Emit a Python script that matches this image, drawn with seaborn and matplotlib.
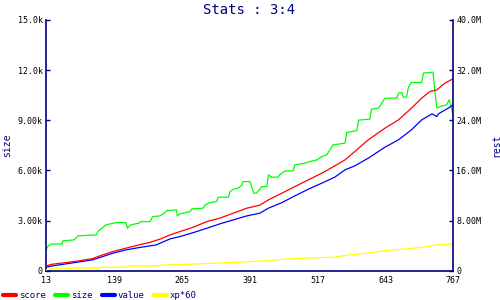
"""
Stats : 3:4  --  size on the left axis (k), score / value / xp*60 on the right axis (M)
"""

import matplotlib
matplotlib.use("Agg")
import matplotlib.pyplot as plt
import seaborn as sns
import pandas as pd

# ---- data ----
size_x = [13, 16, 22, 43, 44, 65, 69, 72, 106, 109, 115, 120, 124, 143, 161, 164, 170, 185,
          189, 206, 209, 211, 224, 233, 237, 255, 256, 261, 280, 283, 304, 308, 317, 329, 332,
          351, 354, 360, 369, 376, 378, 391, 394, 398, 403, 413, 422, 425, 431, 443, 446, 456,
          471, 474, 493, 502, 515, 524, 533, 545, 567, 570, 589, 592, 613, 616, 629, 641, 663,
          666, 672, 675, 681, 684, 689, 709, 712, 730, 732, 737, 743, 755, 760, 765, 767]
size_y = [1255, 1452, 1596, 1614, 1793, 1853, 1972, 2092, 2151, 2349, 2510, 2647, 2749, 2886,
          2886, 2552, 2749, 2851, 2946, 2946, 3149, 3245, 3287, 3466, 3604, 3645, 3287, 3406,
          3544, 3705, 3747, 3944, 4082, 4141, 4404, 4404, 4739, 4882, 4942, 5139, 5337, 5337,
          5038, 4643, 4643, 5038, 5038, 5737, 5600, 5600, 5737, 5976, 5976, 6335, 6436, 6532,
          6633, 6831, 6932, 7530, 7631, 8265, 8384, 9006, 9066, 9663, 9723, 10321, 10321, 10620,
          10655, 10381, 10381, 10918, 11253, 11253, 11815, 11875, 11175, 9723, 9819, 9920, 10219,
          9621, 9221]

score_x = [13, 25, 50, 74, 99, 118, 137, 161, 185, 204, 224, 243, 261, 286, 311, 335, 360, 385,
           409, 425, 450, 474, 499, 524, 548, 567, 585, 610, 641, 666, 690, 709, 724, 737, 752, 767]
score_y = [0.80, 1.07, 1.32, 1.59, 1.96, 2.55, 3.08, 3.62, 4.14, 4.51, 5.05, 5.74, 6.26, 6.96,
           7.86, 8.40, 9.20, 9.99, 10.47, 11.31, 12.38, 13.43, 14.50, 15.57, 16.73, 17.69, 19.01,
           20.88, 22.74, 24.06, 25.93, 27.52, 28.57, 28.84, 29.91, 30.60]

value_x = [13, 25, 50, 74, 99, 118, 137, 161, 185, 217, 243, 261, 286, 311, 335, 360, 385, 409,
           425, 450, 474, 499, 524, 548, 567, 585, 610, 641, 666, 690, 709, 728, 737, 740, 755,
           765, 767]
value_y = [0.59, 0.80, 1.12, 1.43, 1.75, 2.28, 2.82, 3.35, 3.71, 4.14, 5.10, 5.47, 6.10, 6.80,
           7.49, 8.13, 8.76, 9.19, 9.99, 10.88, 11.95, 13.02, 13.98, 14.93, 16.10, 16.73, 17.96,
           19.71, 20.88, 22.47, 24.06, 25.02, 24.59, 25.02, 25.77, 26.29, 26.61]

xp_x = [13, 19, 31, 111, 115, 161, 165, 217, 237, 280, 329, 378, 422, 453, 493, 545, 576, 607,
        641, 687, 712, 737, 767]
xp_y = [0.16, 0.27, 0.43, 0.43, 0.59, 0.59, 0.75, 0.80, 0.96, 1.07, 1.23, 1.43, 1.64, 1.86,
        2.02, 2.18, 2.55, 2.82, 3.23, 3.55, 3.78, 4.14, 4.30]

x_ticks = [13, 139, 265, 391, 517, 643, 767]
left_ticks = [0, 3000, 6000, 9000, 12000, 15000]
left_labels = ["0", "3.00k", "6.00k", "9.00k", "12.0k", "15.0k"]
right_ticks = [0, 8, 16, 24, 32, 40]
right_labels = ["0", "8.00M", "16.0M", "24.0M", "32.0M", "40.0M"]

NAVY = "#000080"

sns.set_style("white")
plt.rcParams["font.family"] = ["DejaVu Sans Mono", "DejaVu Sans"]

fig = plt.figure(figsize=(5, 3), dpi=100, facecolor="white")
ax = fig.add_axes([0.092, 0.097, 0.814, 0.837])
ax2 = ax.twinx()

size_df = pd.DataFrame({"x": size_x, "y": size_y})
score_df = pd.DataFrame({"x": score_x, "y": score_y})
value_df = pd.DataFrame({"x": value_x, "y": value_y})
xp_df = pd.DataFrame({"x": xp_x, "y": xp_y})

lw = 0.9
# size on the left scale, the rest on the right scale
sns.lineplot(data=size_df, x="x", y="y", ax=ax, color="#00ff00", lw=lw, estimator=None, sort=False, label="size")
sns.lineplot(data=xp_df, x="x", y="y", ax=ax2, color="#ffff00", lw=lw, estimator=None, sort=False, label="xp*60")
sns.lineplot(data=value_df, x="x", y="y", ax=ax2, color="#0000ff", lw=lw, estimator=None, sort=False, label="value")
sns.lineplot(data=score_df, x="x", y="y", ax=ax2, color="#ff0000", lw=lw, estimator=None, sort=False, label="score")

ax.set_xlim(13, 767)
ax.set_ylim(0, 15000)
ax2.set_ylim(0, 40)
ax.set_xticks(x_ticks)
ax.set_xticklabels([str(t) for t in x_ticks])
ax.set_yticks(left_ticks)
ax.set_yticklabels(left_labels)
ax2.set_yticks(right_ticks)
ax2.set_yticklabels(right_labels)

for a in (ax, ax2):
    a.set_xlabel("")
    a.tick_params(direction="in", length=3, width=1, color=NAVY, labelsize=6, labelcolor="black", pad=2.5)
    for side in ("left", "right", "bottom"):
        a.spines[side].set_color(NAVY)
        a.spines[side].set_linewidth(1.2)
    a.spines["top"].set_visible(False)
    if a.get_legend() is not None:
        a.get_legend().remove()
ax.spines["right"].set_visible(False)
ax2.spines["left"].set_visible(False)
ax2.spines["bottom"].set_visible(False)
ax.tick_params(axis="x", pad=3.5)

ax.set_ylabel("size", color=NAVY, fontsize=7)
ax2.set_ylabel("rest", color=NAVY, fontsize=7, rotation=90)
ax.yaxis.set_label_coords(-0.084, 0.5)
ax2.yaxis.set_label_coords(1.094, 0.5)

ax.set_title("Stats : 3:4", color=NAVY, fontsize=10, pad=4)

# legend in the order of the reference
handles = {l.get_label(): l for l in ax.lines + ax2.lines}
order = ["score", "size", "value", "xp*60"]
leg = fig.legend([handles[k] for k in order], order, loc="lower left", bbox_to_anchor=(0.0, -0.009),
                 ncol=4, frameon=False, fontsize=6.5, handlelength=1.45, handletextpad=0.35,
                 columnspacing=1.0, borderaxespad=0.0, borderpad=0.3)
for t in leg.get_texts():
    t.set_color(NAVY)
for h in leg.legend_handles:
    h.set_linewidth(3)

fig.savefig("out.png", dpi=100, facecolor="white")
